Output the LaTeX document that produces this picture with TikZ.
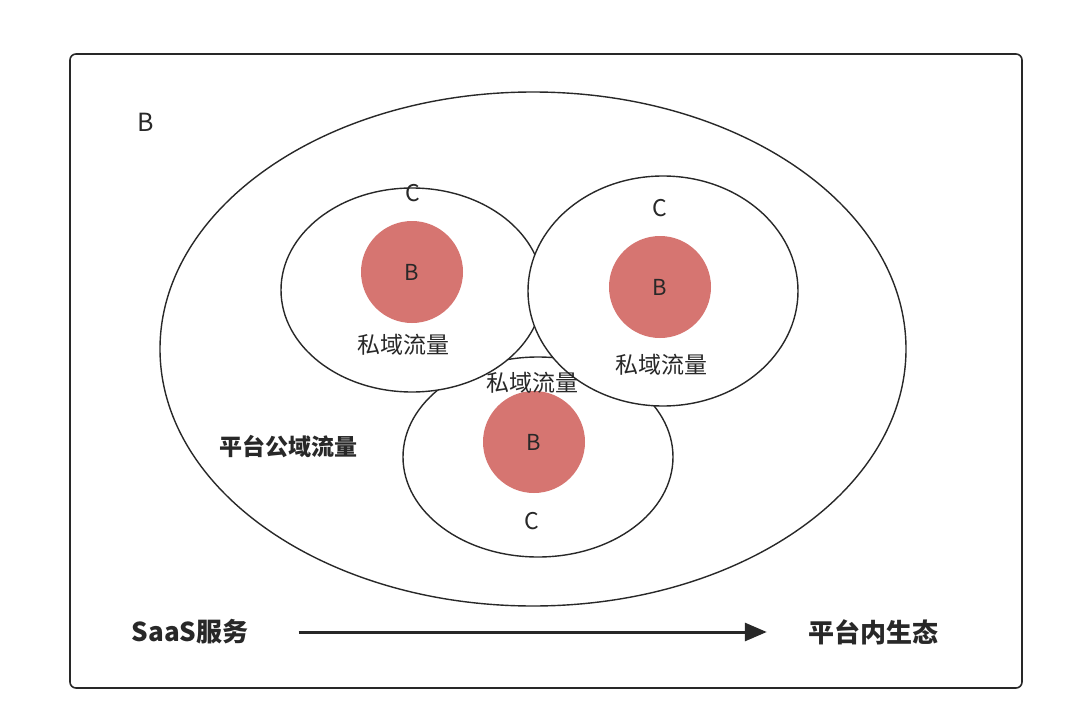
\documentclass[tikz,border=0pt]{standalone}
\usepackage{fontspec}
\setmainfont{Noto Sans CJK SC}
\usetikzlibrary{positioning, arrows.meta, shapes.geometric}
\definecolor{coreRed}{RGB}{214,117,113}
\definecolor{ink}{RGB}{40,40,40}

\begin{document}
\begin{tikzpicture}[x=1pt, y=-1pt,
  frame/.style={draw=ink, line width=1.6pt, rounded corners=6pt},
  zone/.style={ellipse, draw=ink, line width=1.4pt, fill=white, inner sep=0pt},
  core/.style={circle, fill=coreRed, minimum size=102pt, inner sep=0pt,
               font=\fontsize{22}{22}\selectfont, text=ink},
  lbl/.style={font=\fontsize{23}{23}\selectfont, text=ink, inner sep=0pt},
  glbl/.style={font=\fontsize{23}{23}\selectfont\bfseries, text=ink, inner sep=0pt},
  arr/.style={-{Triangle[length=22pt, width=18pt]}, line width=3pt, color=ink}
]
  \useasboundingbox (0,0) rectangle (1080,728);

  % Outer frame
  \draw[frame] (70,54) rectangle (1022,688);
  \node[lbl, font=\fontsize{25}{25}\selectfont] (topB) at (146,122) {B};

  % Public traffic
  \node[zone, minimum width=746pt, minimum height=514pt] (pub) at (533,349) {};
  \node[glbl] (publbl) at (288,447) {平台公域流量};

  % Private traffic pools
  \node[zone, minimum width=270pt, minimum height=200pt] (pvC) at (538,457) {};
  \node[zone, minimum width=262pt, minimum height=204pt] (pvA) at (412,290) {};
  \node[zone, minimum width=270pt, minimum height=230pt] (pvB) at (663,291) {};

  \node[core] (coreA) at (412,272) {B};
  \node[core] (coreB) at (660,287) {B};
  \node[core] (coreC) at (534,442) {B};

  \node[lbl] (cA) at (413,193) {C};
  \node[lbl] (cB) at (660,208) {C};
  \node[lbl] (cC) at (532,521) {C};

  \node[lbl] (pA) at (403,345) {私域流量};
  \node[lbl] (pB) at (661,365) {私域流量};
  \node[lbl] (pC) at (532,383) {私域流量};

  % Bottom arrow
  \node[glbl, font=\fontsize{26}{26}\selectfont\bfseries] (saas) at (190,632) {SaaS服务};
  \node[glbl, font=\fontsize{26}{26}\selectfont\bfseries] (eco) at (873,632) {平台内生态};
  \draw[arr, shorten <=50pt, shorten >=41pt] (saas.east) -- (eco.west);

\end{tikzpicture}
\end{document}
